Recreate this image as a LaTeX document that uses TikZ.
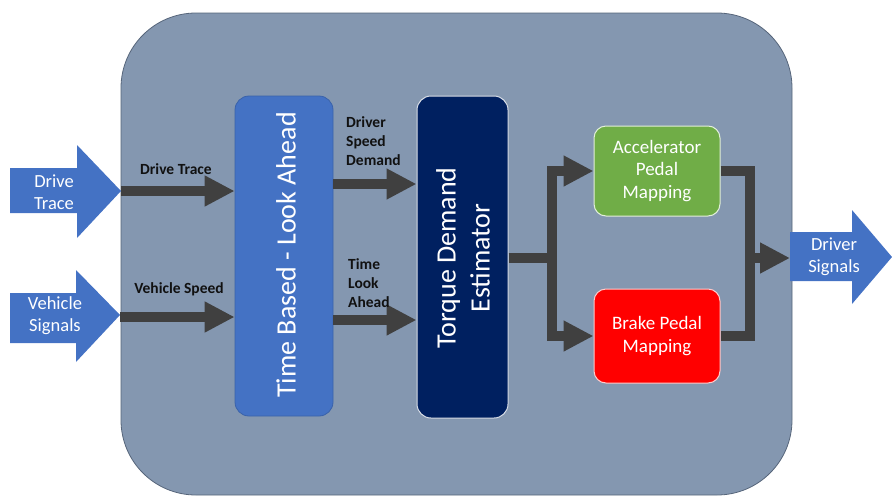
\documentclass[tikz,border=0pt]{standalone}
\usepackage{fontspec}
\setmainfont{Carlito}
\usetikzlibrary{arrows.meta}
\definecolor{panel}{HTML}{8497B0}
\definecolor{paneledge}{HTML}{56657A}
\definecolor{blockblue}{HTML}{4472C4}
\definecolor{blockedge}{HTML}{3A62AA}
\definecolor{navy}{HTML}{002060}
\definecolor{accgreen}{HTML}{70AD47}
\definecolor{brakered}{HTML}{FF0000}
\definecolor{wire}{HTML}{404040}
\definecolor{labeltext}{HTML}{111111}
\tikzset{
  bus/.style={draw=wire, line width=10pt},
  conn/.style={bus, -{Triangle[length=30pt,width=29pt]}},
  bigarrow/.style={fill=blockblue},
  arrowtext/.style={text=white, align=center, inner sep=0pt,
    font=\fontsize{18.5}{22}\selectfont},
  sigtext/.style={text=labeltext, inner sep=0pt,
    font=\bfseries\fontsize{15.5}{19}\selectfont},
  block/.style={rounded corners=14pt, inner sep=0pt},
  boxtext/.style={text=white, align=center, font=\fontsize{19}{22.5}\selectfont}
}
\begin{document}
\begin{tikzpicture}[x=1pt,y=-1pt]
\useasboundingbox (0,0) rectangle (892,496);

% system panel
\draw[paneledge, fill=panel, line width=0.8pt, rounded corners=75pt]
  (121,13) rectangle (792,495);

% input and output block arrows
\fill[bigarrow] (10,168) -- (77,168) -- (77,145) -- (121,191) -- (77,238)
  -- (77,213) -- (10,213) -- cycle;
\fill[bigarrow] (10,293) -- (76,293) -- (76,270) -- (120,315) -- (76,362)
  -- (76,343) -- (10,343) -- cycle;
\fill[bigarrow] (790,232) -- (852,232) -- (852,210) -- (892,257) -- (852,304)
  -- (852,281) -- (790,281) -- cycle;
\node[arrowtext] (drivetrace) at (54,192) {Drive\\Trace};
\node[arrowtext] (vehsig) at (55,316) {Vehicle\\Signals};
\node[arrowtext] (drvsig) at (834,257) {Driver\\Signals};
\coordinate (dtin) at (121,191);
\coordinate (vsin) at (120,317);
\coordinate (dsout) at (790,258);

% processing blocks
\node[block, fill=blockblue, draw=blockedge, line width=0.8pt,
  minimum width=98pt, minimum height=320pt] (tb) at (284,256) {};
\node[rotate=90, text=white, font=\fontsize{28}{32}\selectfont] (tbtext)
  at (286,255) {Time Based - Look Ahead};

\node[block, fill=navy, draw=white!85!navy, line width=1pt,
  minimum width=91pt, minimum height=322pt] (tde) at (462.5,257) {};
\node[rotate=90, text=white, align=center,
  font=\fontsize{28}{34}\selectfont] (tdetext) at (463,258)
  {Torque Demand\\Estimator};

\node[block, rounded corners=12pt, fill=accgreen, draw=white!80!accgreen,
  line width=1pt, minimum width=126pt, minimum height=90pt, boxtext]
  (acc) at (657,171) {Accelerator\\Pedal\\Mapping};
\node[block, rounded corners=12pt, fill=brakered, draw=white!80!brakered,
  line width=1pt, minimum width=126pt, minimum height=94pt, boxtext]
  (brk) at (657,336) {Brake Pedal\\Mapping};

% signal connectors
\draw[conn] (dtin) -- (dtin -| tb.west);
\draw[conn] (vsin) -- (vsin -| tb.west);
\node[sigtext] (lbl-dt) at (176,169) {Drive Trace};
\node[sigtext] (lbl-vs) at (179,289) {Vehicle Speed};

\coordinate (dsd) at (333,184);
\coordinate (tla) at (333,320);
\draw[conn] (dsd) -- (dsd -| tde.west);
\draw[conn] (tla) -- (tla -| tde.west);
\node[sigtext, align=left, anchor=west] (lbl-dsd) at (346,141)
  {Driver\\Speed\\Demand};
\node[sigtext, align=left, anchor=west] (lbl-tla) at (348,283)
  {Time\\Look\\Ahead};

% split to the pedal maps
\coordinate (split) at (552,258);
\draw[bus] (tde.east |- split) -- (split);
\draw[conn] (split) |- (acc.west);
\draw[conn] (split) |- (brk.west);

% merge to the driver signals
\coordinate (merge) at (750,258);
\draw[bus] (acc.east) -| (merge) |- (brk.east);
\draw[conn] (merge) -- (dsout);
\end{tikzpicture}
\end{document}
